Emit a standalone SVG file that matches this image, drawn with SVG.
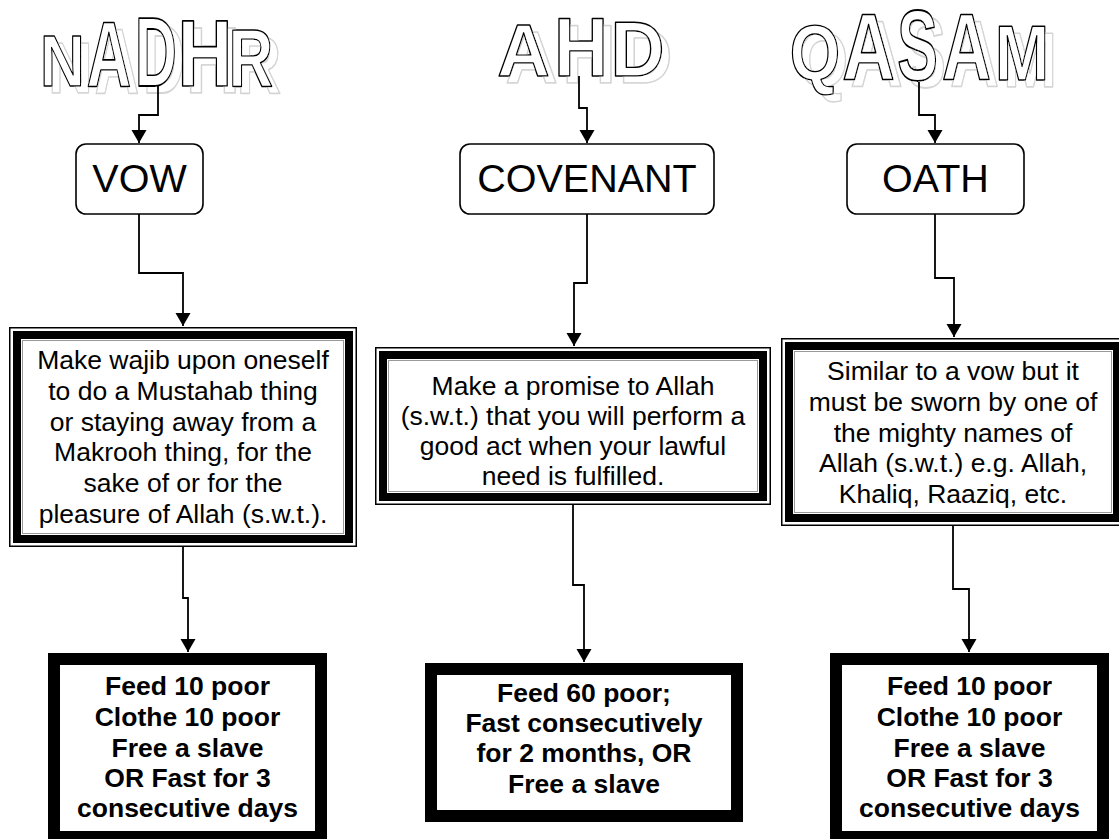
<svg xmlns="http://www.w3.org/2000/svg" width="1119" height="839" viewBox="0 0 1119 839">
<style>
.bg{fill:#fff}
.t{font-family:"Liberation Sans",Arial,sans-serif;fill:#000}
.lbl{font-size:39.5px;text-anchor:middle}
.desc{font-size:26.5px;text-anchor:middle}
.res{font-size:26.5px;font-weight:bold;text-anchor:middle}
.wa{font-family:"Liberation Sans",Arial,sans-serif;font-weight:bold;font-size:100px;text-anchor:middle;fill:#fff;stroke:#000;stroke-width:1.8;stroke-linejoin:round}
.title{filter:url(#wsh)}
.rbox{fill:#fff;stroke:#000;stroke-width:1.6}
.o1{fill:#fff;stroke:#000;stroke-width:1.5}
.o2{fill:none;stroke:#000;stroke-width:8}
.o3{fill:none;stroke:#999;stroke-width:1}
.rb{fill:#fff;stroke:#000;stroke-width:12}
.conn{fill:none;stroke:#000;stroke-width:1.8;marker-end:url(#arr)}
</style>
<defs>
<marker id="arr" markerUnits="userSpaceOnUse" markerWidth="16" markerHeight="16" refX="13" refY="7.5" orient="auto">
<path d="M0,0 L13,7.5 L0,15 z" fill="#000"/>
</marker>
<filter id="wsh" x="-5%" y="-20%" width="115%" height="150%">
<feOffset in="SourceGraphic" dx="8" dy="7" result="o"/>
<feColorMatrix in="o" type="matrix" values="0.34 0 0 0 0.66  0 0.34 0 0 0.66  0 0 0.34 0 0.66  0 0 0 1 0" result="g"/>
<feMerge><feMergeNode in="g"/><feMergeNode in="SourceGraphic"/></feMerge>
</filter>
</defs>
<rect class="bg" x="0" y="0" width="1119" height="839"/>

<g id="title-nadhr" class="title">
<text class="wa" transform="translate(62.5,86) scale(0.62,0.73)">N</text>
<text class="wa" transform="translate(109,86) scale(0.62,0.92)">A</text>
<text class="wa" transform="translate(156,86) scale(0.58,0.99)">D</text>
<text class="wa" transform="translate(205,86) scale(0.76,0.95)">H</text>
<text class="wa" transform="translate(251,86) scale(0.62,0.81)">R</text>
</g>

<g id="title-ahd" class="title">
<text class="wa" transform="translate(523.5,76) scale(0.73,0.74)">A</text>
<text class="wa" transform="translate(581,76) scale(0.75,0.84)">H</text>
<text class="wa" transform="translate(637.5,76) scale(0.75,0.78)">D</text>
</g>

<g id="title-qasam" class="title">
<text class="wa" transform="translate(815,80) scale(0.65,0.77)">Q</text>
<text class="wa" transform="translate(868.5,80) scale(0.73,0.95)">A</text>
<text class="wa" transform="translate(917.5,80) scale(0.61,1.0)">S</text>
<text class="wa" transform="translate(966.5,80) scale(0.68,0.95)">A</text>
<text class="wa" transform="translate(1022,80) scale(0.65,0.77)">M</text>
</g>

<g id="connectors">
<path class="conn" d="M158,86 V115 H139 V143"/>
<path class="conn" d="M139,214 V273 H183 V326"/>
<path class="conn" d="M183,547 V598 H188 V652"/>
<path class="conn" d="M579,76 V108 H587 V143"/>
<path class="conn" d="M587,214 V283 H574 V346"/>
<path class="conn" d="M573,505 V585 H584 V662"/>
<path class="conn" d="M919,82 V115 H935 V143"/>
<path class="conn" d="M935,214 V278 H954 V337"/>
<path class="conn" d="M953,526 V589 H969 V652"/>
</g>

<g id="vow">
<rect class="rbox" x="76" y="144" width="127" height="70" rx="10"/>
<text class="t lbl" x="139.5" y="192">VOW</text>
</g>
<g id="covenant">
<rect class="rbox" x="460" y="144" width="254" height="70" rx="10"/>
<text class="t lbl" x="587" y="192">COVENANT</text>
</g>
<g id="oath">
<rect class="rbox" x="847" y="144" width="177" height="70" rx="10"/>
<text class="t lbl" x="935.5" y="192">OATH</text>
</g>

<g id="vow-desc">
<rect class="o1" x="9.75" y="327.75" width="346.5" height="218.5"/>
<rect class="o2" x="17" y="335" width="332" height="204"/>
<rect class="o3" x="22.5" y="340.5" width="321" height="193"/>
<text class="t desc" x="183" y="369">Make wajib upon oneself</text>
<text class="t desc" x="183" y="400">to do a Mustahab thing</text>
<text class="t desc" x="183" y="430.5">or staying away from a</text>
<text class="t desc" x="183" y="461">Makrooh thing, for the</text>
<text class="t desc" x="183" y="492">sake of or for the</text>
<text class="t desc" x="183" y="523">pleasure of Allah (s.w.t.).</text>
</g>

<g id="covenant-desc">
<rect class="o1" x="375.75" y="347.75" width="394.5" height="156.5"/>
<rect class="o2" x="383" y="355" width="380" height="142"/>
<rect class="o3" x="388.5" y="360.5" width="369" height="131"/>
<text class="t desc" x="573" y="395">Make a promise to Allah</text>
<text class="t desc" x="573" y="425">(s.w.t.) that you will perform a</text>
<text class="t desc" x="573" y="455">good act when your lawful</text>
<text class="t desc" x="573" y="485">need is fulfilled.</text>
</g>

<g id="oath-desc">
<rect class="o1" x="781.75" y="338.75" width="342.5" height="186.5"/>
<rect class="o2" x="789" y="346" width="328" height="172"/>
<rect class="o3" x="794.5" y="351.5" width="317" height="161"/>
<text class="t desc" x="953" y="380">Similar to a vow but it</text>
<text class="t desc" x="953" y="411">must be sworn by one of</text>
<text class="t desc" x="953" y="442">the mighty names of</text>
<text class="t desc" x="953" y="472">Allah (s.w.t.) e.g. Allah,</text>
<text class="t desc" x="953" y="503">Khaliq, Raaziq, etc.</text>
</g>

<g id="vow-result">
<rect class="rb" x="54" y="659" width="267" height="178"/>
<text class="t res" x="187.5" y="695">Feed 10 poor</text>
<text class="t res" x="187.5" y="726">Clothe 10 poor</text>
<text class="t res" x="187.5" y="757">Free a slave</text>
<text class="t res" x="187.5" y="787">OR Fast for 3</text>
<text class="t res" x="187.5" y="817">consecutive days</text>
</g>

<g id="covenant-result">
<rect class="rb" x="431" y="669" width="306" height="147"/>
<text class="t res" x="584" y="702">Feed 60 poor;</text>
<text class="t res" x="584" y="732">Fast consecutively</text>
<text class="t res" x="584" y="762">for 2 months, OR</text>
<text class="t res" x="584" y="793">Free a slave</text>
</g>

<g id="oath-result">
<rect class="rb" x="836" y="659" width="267" height="178"/>
<text class="t res" x="969.5" y="695">Feed 10 poor</text>
<text class="t res" x="969.5" y="726">Clothe 10 poor</text>
<text class="t res" x="969.5" y="757">Free a slave</text>
<text class="t res" x="969.5" y="787">OR Fast for 3</text>
<text class="t res" x="969.5" y="817">consecutive days</text>
</g>
</svg>
